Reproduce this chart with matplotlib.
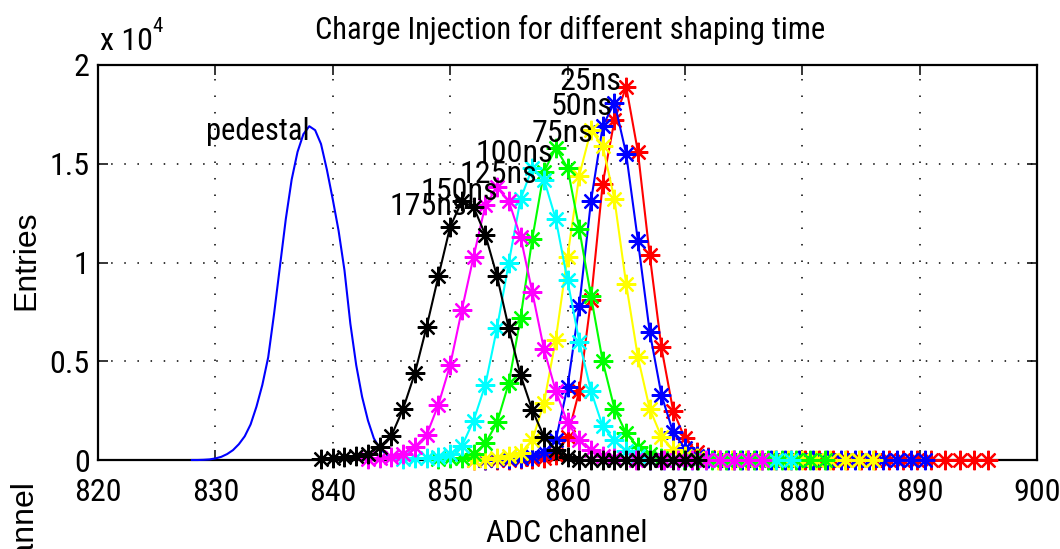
import matplotlib
matplotlib.use('Agg')
import matplotlib.pyplot as plt
from matplotlib import font_manager

# ---------------- data (entries in units of 1e4) ----------------
ped_x = [828.0, 828.5, 829.0, 829.5, 830.0, 830.5, 831.0, 831.5, 832.0, 832.5,
         833.0, 833.5, 834.0, 834.5, 835.0, 835.5, 836.0, 836.5, 837.0, 837.5,
         838.0, 838.5, 839.0, 839.5, 840.0, 840.5, 841.0, 841.5, 842.0, 842.5,
         843.0, 843.5, 844.0, 844.5, 845.0, 845.5, 846.0]
ped_y = [0.0, 0.0, 0.001, 0.003, 0.008, 0.016, 0.03, 0.05, 0.08, 0.12,
         0.18, 0.27, 0.38, 0.52, 0.74, 0.98, 1.22, 1.42, 1.56, 1.65,
         1.69, 1.67, 1.60, 1.47, 1.32, 1.16, 0.96, 0.69, 0.48, 0.32,
         0.20, 0.11, 0.06, 0.03, 0.012, 0.004, 0.0]

x_25 = [852, 853, 854, 855, 856, 857, 858, 859, 860, 861, 862, 863, 864, 865,
        866, 867, 868, 869, 870, 871, 872,
        873.0, 874.2, 875.4, 876.6, 877.8, 879.0, 880.2, 881.4, 882.6, 883.8,
        885.0, 886.2, 887.4, 888.6, 889.8, 891.0, 892.2, 893.4, 894.6, 895.8]
y_25 = [0, 0, 0, 0.002, 0.003, 0.005, 0.01, 0.025, 0.118, 0.35, 0.81, 1.40,
        1.72, 1.89, 1.56, 1.04, 0.57, 0.25, 0.11, 0.04, 0.015,
        0, 0, 0, 0, 0, 0, 0, 0, 0, 0, 0, 0, 0, 0, 0, 0, 0, 0, 0, 0]

x_50 = [853, 854, 855, 856, 857, 858, 859, 860, 861, 862, 863, 864, 865, 866,
        867, 868, 869, 870, 871, 872,
        873.7, 874.9, 876.1, 877.3, 878.5, 879.7, 880.9, 882.1, 883.3, 884.5,
        885.7, 886.9, 888.1, 889.3, 890.5]
y_50 = [0, 0.005, 0.007, 0.01, 0.02, 0.04, 0.10, 0.37, 0.78, 1.31, 1.69, 1.81,
        1.55, 1.11, 0.65, 0.33, 0.14, 0.06, 0.02, 0.008,
        0, 0, 0, 0, 0, 0, 0, 0, 0, 0, 0, 0, 0, 0, 0]

x_75 = [852, 853, 854, 855, 856, 857, 858, 859, 860, 861, 862, 863, 864, 865,
        866, 867, 868, 869, 870, 871,
        872.8, 874.0, 875.2, 876.4, 877.6, 878.8, 880.0, 881.2, 882.4, 883.6,
        884.8, 886.0]
y_75 = [0, 0.005, 0.01, 0.02, 0.035, 0.10, 0.29, 0.61, 1.03, 1.44, 1.67, 1.59,
        1.32, 0.89, 0.52, 0.26, 0.118, 0.05, 0.02, 0.008,
        0, 0, 0, 0, 0, 0, 0, 0, 0, 0, 0, 0]

x_100 = [849, 850, 851, 852, 853, 854, 855, 856, 857, 858, 859, 860, 861, 862,
         863, 864, 865, 866, 867, 868,
         869.9, 871.1, 872.3, 873.5, 874.7, 875.9, 877.1, 878.3, 879.5, 880.7,
         881.9]
y_100 = [0.005, 0.008, 0.01, 0.03, 0.084, 0.19, 0.39, 0.72, 1.12, 1.46, 1.58,
         1.48, 1.17, 0.83, 0.50, 0.26, 0.135, 0.067, 0.03, 0.01,
         0, 0, 0, 0, 0, 0, 0, 0, 0, 0, 0]

x_125 = [846, 847, 848, 849, 850, 851, 852, 853, 854, 855, 856, 857, 858, 859,
         860, 861, 862, 863, 864, 865, 866,
         867.0, 868.2, 869.4, 870.6, 871.8, 873.0, 874.2, 875.4, 876.6, 877.8,
         879.0]
y_125 = [0.005, 0.008, 0.01, 0.015, 0.03, 0.07, 0.20, 0.38, 0.67, 1.0, 1.32,
         1.48, 1.42, 1.22, 0.91, 0.60, 0.35, 0.17, 0.10, 0.045, 0.02,
         0, 0, 0, 0, 0, 0, 0, 0, 0, 0, 0]

x_150 = [843, 844, 845, 846, 847, 848, 849, 850, 851, 852, 853, 854, 855, 856,
         857, 858, 859, 860, 861, 862, 863, 864,
         865.8, 867.0, 868.2, 869.4, 870.6, 871.8, 873.0, 874.2, 875.4, 876.6]
y_150 = [0.005, 0.01, 0.015, 0.03, 0.067, 0.127, 0.28, 0.48, 0.76, 1.03, 1.29,
         1.38, 1.31, 1.13, 0.85, 0.56, 0.35, 0.19, 0.10, 0.05, 0.02, 0.01,
         0, 0, 0, 0, 0, 0, 0, 0, 0, 0]

x_175 = [839, 840, 841, 842, 843, 844, 845, 846, 847, 848, 849, 850, 851, 852,
         853, 854, 855, 856, 857, 858, 859, 860,
         861, 862, 863, 864, 865, 866, 867, 868, 869, 870, 871]
y_175 = [0.005, 0.01, 0.017, 0.02, 0.03, 0.067, 0.123, 0.26, 0.44, 0.675, 0.93,
         1.18, 1.31, 1.28, 1.14, 0.93, 0.667, 0.43, 0.253, 0.118, 0.05, 0.017,
         0, 0, 0, 0, 0, 0, 0, 0, 0, 0, 0]

series_labels = ['25ns', '50ns', '75ns', '100ns', '125ns', '150ns', '175ns']
series_colors = ['#ff0000', '#0000ff', '#ffff00', '#00ff00', '#00ffff',
                 '#ff00ff', '#000000']
xticks = [820, 830, 840, 850, 860, 870, 880, 890, 900]
yticks = [0, 0.5, 1, 1.5, 2]
ytick_labels = ['0', '0.5', '1', '1.5', '2']

# ---------------- fonts ----------------
names = {f.name for f in font_manager.fontManager.ttflist}
NARROW = None
for cand in ['Liberation Sans Narrow', 'Arial Narrow', 'Roboto Condensed',
             'Archivo Narrow', 'PT Sans Narrow']:
    if cand in names:
        NARROW = cand
        break
if NARROW is None:
    NARROW = 'Liberation Sans'
NFAM = [NARROW, 'DejaVu Sans']
REG = ['Liberation Sans', 'DejaVu Sans']

W, H = 1060, 549
fig = plt.figure(figsize=(W / 100, H / 100), dpi=100)
ax = fig.add_axes([98 / W, 1 - 460 / H, (1037 - 98) / W, (460 - 65) / H])

ax.plot(ped_x, ped_y, color='#0000ff', lw=1.5, zorder=3, clip_on=False)

xs = [x_25, x_50, x_75, x_100, x_125, x_150, x_175]
ys = [y_25, y_50, y_75, y_100, y_125, y_150, y_175]
for x, y, c in zip(xs, ys, series_colors):
    ax.plot(x, y, color=c, lw=1.5, marker=(8, 2, 0), ms=14, mew=1.6,
            zorder=3, clip_on=False)

ax.set_xlim(820, 900)
ax.set_ylim(0, 2)
ax.set_xticks(xticks)
ax.set_xticklabels([str(t) for t in xticks])
ax.set_yticks(yticks)
ax.set_yticklabels(ytick_labels)
ax.tick_params(direction='in', length=7, width=1.1, top=True, right=True,
               labelsize=23, color='k')
ax.tick_params(axis='x', pad=13)
ax.tick_params(axis='y', pad=6)
for lab in ax.get_xticklabels() + ax.get_yticklabels():
    lab.set_fontfamily(NFAM)

ax.xaxis.grid(True, linestyle=(0, (1, 9.8)), lw=1.1, color='k')
ax.yaxis.grid(True, linestyle=(0, (1, 7.6)), lw=1.1, color='k')
ax.set_axisbelow(True)
for s in ax.spines.values():
    s.set_linewidth(1.6)

# curve labels (right edge, baseline)
label_pos = {'25ns': (864.6, 1.873), '50ns': (863.8, 1.747), '75ns': (862.2, 1.610),
             '100ns': (858.8, 1.509), '125ns': (857.4, 1.403),
             '150ns': (854.1, 1.316), '175ns': (851.4, 1.241)}
for lab in series_labels:
    lx, ly = label_pos[lab]
    ax.text(lx, ly, lab, ha='right', va='baseline', fontsize=23,
            family=NFAM, zorder=5)
ax.text(838.0, 1.62, 'pedestal', ha='right', va='baseline', fontsize=22,
        family=NFAM, zorder=5)

fig.text(570 / W, 1 - 30 / H, 'Charge Injection for different shaping time',
         ha='center', va='center', fontsize=22, family=NFAM)
fig.text(100 / W, 1 - 50 / H, 'x 10', ha='left', va='baseline', fontsize=23,
         family=NFAM)
fig.text(152 / W, 1 - 32 / H, '4', ha='left', va='baseline', fontsize=15,
         family=NFAM)
fig.text(567 / W, 1 - 542 / H, 'ADC channel', ha='center', va='baseline',
         fontsize=23, family=NFAM)
fig.text(26 / W, 1 - 260 / H, 'Entries', rotation=90, ha='center',
         va='center', fontsize=23, family=REG)
fig.text(26 / W, 1 - 482 / H, 'ADC channel', rotation=90, ha='center',
         va='top', fontsize=23, family=REG)

fig.savefig('out.png', dpi=100)
